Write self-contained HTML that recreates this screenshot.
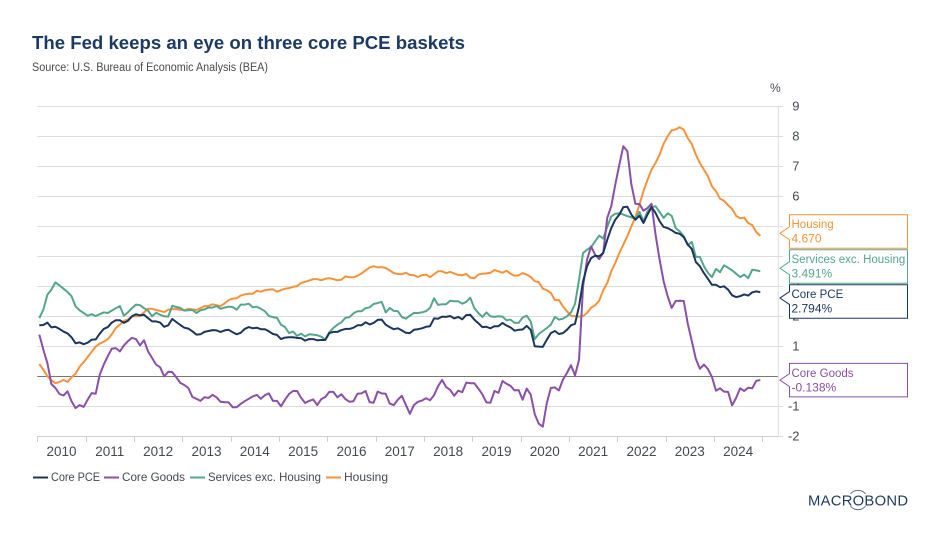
<!DOCTYPE html>
<html lang="en">
<head>
<meta charset="utf-8">
<title>The Fed keeps an eye on three core PCE baskets</title>
<style>
  html, body { margin: 0; padding: 0; background: #fff; }
  svg { display: block; font-family: "Liberation Sans", sans-serif; }
  text { white-space: pre; }
</style>
</head>
<body>
<svg id="chart" width="940" height="543" viewBox="0 0 940 543" xmlns="http://www.w3.org/2000/svg">
  <rect width="940" height="543" fill="#ffffff"/>
  <text x="32" y="49" font-size="18" font-weight="700" fill="#1c3a63" textLength="433" lengthAdjust="spacingAndGlyphs">The Fed keeps an eye on three core PCE baskets</text>
  <text x="32" y="71" font-size="11.5" fill="#4a4a4a" textLength="236" lengthAdjust="spacingAndGlyphs">Source: U.S. Bureau of Economic Analysis (BEA)</text>
  <text x="770" y="92" font-size="12" fill="#444a52">%</text>
  <g id="grid"></g>
  <g id="axes"></g>
  <g id="series"></g>
  <g id="callouts"></g>

  <g font-size="12" fill="#444a52">
    <g>
      <line x1="33" x2="48" y1="477.5" y2="477.5" stroke="#1b365d" stroke-width="2"/>
      <text x="51" y="481" textLength="49" lengthAdjust="spacingAndGlyphs">Core PCE</text>
    </g>
    <g>
      <line x1="104" x2="119" y1="477.5" y2="477.5" stroke="#8a4fa6" stroke-width="2"/>
      <text x="122" y="481" textLength="63" lengthAdjust="spacingAndGlyphs">Core Goods</text>
    </g>
    <g>
      <line x1="190" x2="205" y1="477.5" y2="477.5" stroke="#55a58d" stroke-width="2"/>
      <text x="208" y="481" textLength="113" lengthAdjust="spacingAndGlyphs">Services exc. Housing</text>
    </g>
    <g>
      <line x1="326" x2="341" y1="477.5" y2="477.5" stroke="#f7923a" stroke-width="2"/>
      <text x="344" y="481" textLength="44" lengthAdjust="spacingAndGlyphs">Housing</text>
    </g>
  </g>

  <g>
    <text x="808" y="505.5" font-size="14.8" fill="#1f3a5f" textLength="100" lengthAdjust="spacing">MACROBOND</text>
    <path d="M850.5 493.9 A9.7 9.7 0 0 1 865.5 493.9" fill="none" stroke="#4a6485" stroke-width="0.9"/>
    <path d="M850.5 506.1 A9.7 9.7 0 0 0 865.5 506.1" fill="none" stroke="#4a6485" stroke-width="0.9"/>
  </g>
</svg>

<script>
const yearLabels = [2010,2011,2012,2013,2014,2015,2016,2017,2018,2019,2020,2021,2022,2023,2024];
const yTickLabels = [9,8,7,6,5,4,3,2,1,0,-1,-2];

const corePCE = [
  1.69,1.70,1.78,1.62,1.64,1.57,1.48,1.42,1.29,1.09,
  1.12,1.06,1.11,1.21,1.22,1.41,1.57,1.63,1.78,1.86,
  1.86,1.77,1.84,1.99,2.06,2.02,2.04,1.93,1.82,1.82,
  1.78,1.64,1.69,1.90,1.80,1.70,1.61,1.58,1.49,1.38,
  1.39,1.47,1.50,1.53,1.52,1.47,1.52,1.54,1.46,1.39,
  1.44,1.57,1.63,1.59,1.61,1.56,1.56,1.49,1.40,1.37,
  1.23,1.28,1.29,1.29,1.27,1.26,1.18,1.23,1.23,1.19,
  1.20,1.20,1.43,1.47,1.47,1.53,1.57,1.57,1.61,1.69,
  1.69,1.79,1.72,1.77,1.87,1.88,1.71,1.63,1.56,1.59,
  1.52,1.44,1.43,1.54,1.56,1.59,1.64,1.66,1.92,1.91,
  1.98,1.97,2.00,1.92,1.97,1.89,2.03,2.04,1.88,1.76,
  1.63,1.64,1.59,1.66,1.66,1.77,1.68,1.62,1.51,1.54,
  1.55,1.67,1.54,0.99,0.98,0.97,1.21,1.43,1.50,1.40,
  1.43,1.54,1.69,1.74,2.32,3.16,3.66,3.93,4.01,3.99,
  4.10,4.54,4.93,5.21,5.38,5.63,5.64,5.38,5.21,5.34,
  5.10,5.38,5.63,5.43,5.16,4.97,4.93,4.86,4.77,4.74,
  4.63,4.38,4.23,3.80,3.66,3.43,3.24,3.04,3.04,2.96,
  2.99,2.88,2.69,2.63,2.66,2.72,2.68,2.79,2.82,2.794
];
const coreGoods = [
  1.38,0.88,0.43,-0.27,-0.40,-0.60,-0.65,-0.51,-0.84,-1.07,
  -0.97,-1.03,-0.79,-0.57,-0.59,0.04,0.38,0.66,0.91,0.93,
  0.82,1.02,1.16,1.27,1.23,1.02,1.19,0.82,0.60,0.38,
  0.29,-0.01,0.14,0.13,-0.04,-0.23,-0.30,-0.40,-0.70,-0.76,
  -0.83,-0.71,-0.73,-0.63,-0.71,-0.86,-0.87,-0.88,-1.04,-1.04,
  -0.93,-0.84,-0.76,-0.68,-0.63,-0.76,-0.64,-0.58,-0.83,-0.83,
  -1.01,-0.79,-0.60,-0.50,-0.50,-0.73,-0.90,-0.83,-0.78,-0.97,
  -0.77,-0.70,-0.53,-0.53,-0.71,-0.61,-0.77,-0.86,-0.84,-0.59,
  -0.58,-0.50,-0.87,-0.89,-0.52,-0.58,-0.59,-0.92,-0.97,-0.79,
  -0.66,-0.96,-1.26,-0.97,-0.86,-0.82,-0.74,-0.81,-0.64,-0.34,
  -0.13,-0.37,-0.46,-0.66,-0.49,-0.54,-0.22,-0.24,-0.24,-0.42,
  -0.61,-0.88,-0.89,-0.50,-0.56,-0.17,-0.26,-0.33,-0.48,-0.47,
  -0.79,-0.42,-0.62,-1.27,-1.59,-1.69,-0.90,-0.40,-0.38,-0.48,
  -0.12,0.10,0.36,0.02,0.54,2.99,3.88,4.32,4.04,3.90,
  4.10,5.27,5.66,6.38,7.04,7.66,7.49,6.38,5.74,5.73,
  5.51,5.60,5.74,4.71,3.88,3.16,2.66,2.27,2.50,2.51,
  2.50,1.74,1.16,0.57,0.24,0.38,0.23,-0.03,-0.49,-0.41,
  -0.52,-0.53,-0.98,-0.73,-0.41,-0.50,-0.39,-0.41,-0.16,-0.138
];
const servicesExHousing = [
  1.93,2.21,2.71,2.88,3.12,3.02,2.91,2.80,2.66,2.32,
  2.19,2.10,2.01,2.06,2.00,2.06,2.12,2.10,2.18,2.26,
  2.33,2.01,2.12,2.26,2.38,2.36,2.26,2.18,1.99,2.11,
  2.04,1.99,1.98,2.34,2.30,2.27,2.18,2.19,2.20,2.10,
  2.19,2.22,2.28,2.28,2.33,2.24,2.28,2.31,2.30,2.21,
  2.38,2.38,2.41,2.29,2.31,2.24,2.16,2.00,1.96,1.94,
  1.71,1.63,1.43,1.48,1.34,1.41,1.32,1.39,1.38,1.36,
  1.31,1.21,1.46,1.60,1.71,1.79,1.94,1.96,2.09,2.16,
  2.16,2.26,2.29,2.40,2.43,2.47,2.12,2.27,2.17,2.16,
  1.97,1.91,2.01,2.10,2.10,2.12,2.16,2.27,2.59,2.37,
  2.39,2.39,2.51,2.49,2.49,2.41,2.47,2.61,2.26,2.10,
  1.97,2.12,1.99,1.97,1.99,1.98,1.86,1.88,1.77,1.77,
  1.95,2.01,1.82,1.23,1.40,1.50,1.60,1.71,1.97,1.88,
  1.91,1.99,2.12,2.40,3.21,4.10,4.21,4.30,4.49,4.68,
  4.58,4.97,5.32,5.41,5.42,5.38,5.33,5.29,5.24,5.47,
  5.16,5.49,5.63,5.66,5.47,5.27,5.42,5.34,4.93,4.82,
  4.66,4.36,4.47,3.97,3.97,3.66,3.44,3.30,3.57,3.46,
  3.69,3.61,3.52,3.41,3.30,3.38,3.26,3.54,3.52,3.491
];
const housing = [
  0.40,0.21,-0.01,-0.14,-0.24,-0.20,-0.13,-0.20,-0.04,0.07,
  0.31,0.46,0.63,0.81,0.98,1.08,1.14,1.23,1.39,1.60,
  1.71,1.84,1.88,1.99,1.99,2.01,2.12,2.24,2.24,2.20,
  2.17,2.13,2.21,2.23,2.23,2.21,2.19,2.24,2.22,2.20,
  2.26,2.33,2.33,2.39,2.36,2.33,2.42,2.53,2.58,2.59,
  2.68,2.72,2.74,2.74,2.84,2.81,2.86,2.88,2.89,2.81,
  2.86,2.91,2.93,2.97,3.00,3.10,3.14,3.18,3.23,3.23,
  3.19,3.24,3.26,3.23,3.19,3.21,3.32,3.29,3.29,3.34,
  3.42,3.52,3.62,3.66,3.62,3.63,3.60,3.52,3.43,3.40,
  3.39,3.44,3.37,3.36,3.30,3.36,3.38,3.30,3.39,3.49,
  3.49,3.43,3.47,3.42,3.37,3.36,3.40,3.28,3.26,3.38,
  3.41,3.42,3.44,3.53,3.49,3.44,3.51,3.41,3.34,3.36,
  3.43,3.38,3.30,3.16,3.13,2.91,2.86,2.77,2.53,2.53,
  2.32,2.16,2.01,1.99,1.98,2.00,2.10,2.28,2.36,2.51,
  2.86,3.10,3.49,3.77,4.10,4.38,4.66,4.99,5.30,5.71,
  6.16,6.54,6.88,7.10,7.38,7.74,7.99,8.19,8.22,8.29,
  8.21,7.93,7.73,7.38,7.10,6.88,6.66,6.32,6.16,5.91,
  5.84,5.69,5.57,5.34,5.26,5.28,5.10,5.03,4.80,4.67
];

const seriesNames = ["Housing", "Services exc. Housing", "Core PCE", "Core Goods"];
const seriesValues = [housing, servicesExHousing, corePCE, coreGoods];
const seriesUnits = ["", "%", "%", "%"];
const seriesDecimals = [3, 3, 3, 3];

const NS = "http://www.w3.org/2000/svg";
const colors = { "Housing": "#f7923a", "Services exc. Housing": "#55a58d", "Core PCE": "#1b365d", "Core Goods": "#8a4fa6" };
const plot = { left: 37.3, right: 778.3, top: 106, bottom: 436 };
const monthWidth = 725 / 180;
const unitHeight = 30;

function yScale(v) { return plot.bottom - (v - yTickLabels[yTickLabels.length - 1]) * unitHeight; }
function xMonth(i) { return plot.left + (i + 0.5) * monthWidth; }
function xYearStart(n) { return plot.left + n * 12 * monthWidth; }
function make(tag, parent, attrs) {
  const node = document.createElementNS(NS, tag);
  for (const k in attrs) node.setAttribute(k, attrs[k]);
  parent.appendChild(node);
  return node;
}
function slug(s) { return s.toLowerCase().replace(/[^a-z0-9]+/g, "-"); }

const gridG = document.getElementById("grid");
const axesG = document.getElementById("axes");
const seriesG = document.getElementById("series");
const calloutG = document.getElementById("callouts");

yTickLabels.forEach(function (t) {
  const y = Math.round(yScale(t)) + 0.5;
  const isZero = t === 0;
  const line = make("line", gridG, { x1: plot.left, x2: isZero ? plot.right : 783, y1: y, y2: y, stroke: isZero ? "#777777" : "#dddddd", "stroke-width": 1 });
  
  
  const label = make("text", axesG, { x: 799.5, y: yScale(t) + 4.7, "text-anchor": "end", "font-size": 13, fill: "#444a52" });
  label.textContent = String(t);
  
  
});

const rightAxis = make("line", axesG, { x1: plot.right, x2: plot.right, y1: plot.top, y2: plot.bottom, stroke: "#dddddd", "stroke-width": 1 });


const bottomAxis = make("line", axesG, { x1: plot.left, x2: plot.right, y1: plot.bottom + 0.5, y2: plot.bottom + 0.5, stroke: "#cfcfcf", "stroke-width": 1 });



for (let n = 0; n <= yearLabels.length; n++) {
  const tx = Math.round(xYearStart(n)) + 0.5;
  const tick = make("line", axesG, { x1: tx, x2: tx, y1: plot.bottom, y2: plot.bottom + 6, stroke: "#cfcfcf", "stroke-width": 1 });
  
  
}
yearLabels.forEach(function (yr, n) {
  const label = make("text", axesG, { x: xYearStart(n) + 6 * monthWidth, y: 456, "text-anchor": "middle", "font-size": 13.5, fill: "#444a52" });
  label.textContent = String(yr);
  
  
});

["Housing", "Services exc. Housing", "Core Goods", "Core PCE"].forEach(function (name) {
  const vals = seriesValues[seriesNames.indexOf(name)];
  const pts = vals.map(function (v, i) { return xMonth(i).toFixed(2) + "," + yScale(v).toFixed(2); }).join(" ");
  const line = make("polyline", seriesG, { points: pts, fill: "none", stroke: colors[name], "stroke-width": 2, "stroke-linejoin": "round" });
  
  
});

/* Callouts sit at the last value; overlapping boxes merge into evenly spaced clusters. */
const boxHeight = 33.5, boxGap = 1.5, pitch = boxHeight + boxGap;
let clusters = seriesNames.map(function (name, i) {
  const vals = seriesValues[i];
  return { members: [i], centre: yScale(vals[vals.length - 1]) };
});
clusters.sort(function (a, b) { return a.centre - b.centre; });
let merged = true;
while (merged) {
  merged = false;
  for (let c = 0; c < clusters.length - 1; c++) {
    const a = clusters[c], b = clusters[c + 1];
    const aEnd = a.centre + (a.members.length - 1) * pitch / 2;
    const bStart = b.centre - (b.members.length - 1) * pitch / 2;
    if (bStart - aEnd < pitch) {
      const total = a.members.length + b.members.length;
      a.centre = (a.centre * a.members.length + b.centre * b.members.length) / total;
      a.members = a.members.concat(b.members);
      clusters.splice(c + 1, 1);
      merged = true;
      break;
    }
  }
}
clusters.forEach(function (cluster) {
  cluster.members.forEach(function (idx, pos) {
    const name = seriesNames[idx];
    const vals = seriesValues[idx];
    const last = vals[vals.length - 1];
    const colour = colors[name];
    const boxCentre = cluster.centre + (pos - (cluster.members.length - 1) / 2) * pitch;
    const top = boxCentre - boxHeight / 2;
    const tip = boxCentre + Math.max(-3.4, Math.min(1.8, yScale(last) - boxCentre));
    const g = make("g", calloutG, {});
    
    
    const L = 789.5, R = 907.5, B = top + boxHeight;
    const d = "M" + L + " " + top + " H" + R + " V" + B + " H" + L + " V" + (tip + 6.5) + " L780 " + tip + " L" + L + " " + (tip - 6.5) + " Z";
    make("path", g, { d: d, fill: "#ffffff", stroke: colour, "stroke-width": 1 });
    const t1 = make("text", g, { x: 791.5, y: top + 13.5, "font-size": 11.5, fill: colour });
    t1.textContent = name;
    const t2 = make("text", g, { x: 791.5, y: top + 28, "font-size": 12, fill: colour });
    t2.textContent = last.toFixed(seriesDecimals[idx]) + seriesUnits[idx];
  });
});
</script>
</body>
</html>
